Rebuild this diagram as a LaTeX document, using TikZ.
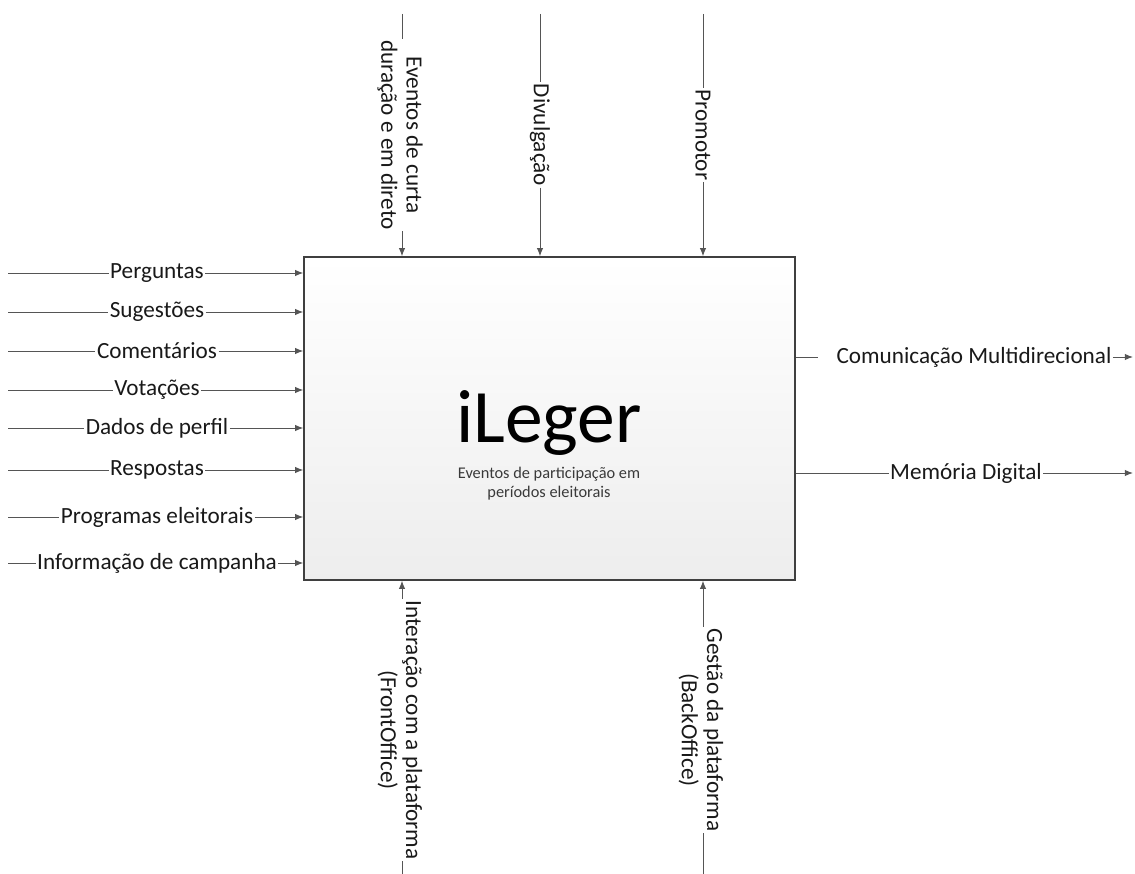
\documentclass[tikz,border=0pt]{standalone}
\usepackage{fontspec}
\setmainfont{Carlito}
\usetikzlibrary{arrows.meta}

\definecolor{lineGray}{HTML}{555555}
\definecolor{boxEdge}{HTML}{3F3F3F}
\definecolor{subGray}{HTML}{3A3A3A}

\begin{document}
\begin{tikzpicture}[
    x=0.02cm, y=-0.02cm,
    >={Latex[length=4.6pt,width=3.6pt]},
    line width=0.55pt,
    lbl/.style={font=\fontsize{13.2}{14.4}\selectfont, inner sep=0.6pt, text=black!90},
    vlbl/.style={lbl, rotate=-90, align=center},
    flow/.style={draw=lineGray}
]

\useasboundingbox (0,0) rectangle (1135,874);

% Main activity box
\node[draw=boxEdge, line width=0.85pt, top color=white, bottom color=black!7,
      minimum width=9.82cm, minimum height=6.46cm, inner sep=0] (box) at (549.5,418.5) {};
\node[font=\fontsize{43}{50}\selectfont, anchor=base, inner sep=0] (title) at (549,442) {iLeger};
\node[font=\fontsize{9.3}{10.8}\selectfont, text=subGray, align=center, inner sep=0] (sub)
      at (549,484) {Eventos de participação em\\períodos eleitorais};

% Inputs (left)
\coordinate (pergS) at (8,273);
\coordinate (sugS) at (8,312);
\coordinate (comS) at (8,351);
\coordinate (votS) at (8,390);
\coordinate (perfS) at (8,428);
\coordinate (respS) at (8,470);
\coordinate (progS) at (8,517);
\coordinate (infoS) at (8,563);

\node[lbl] (perg) at (157,273) {Perguntas};
\node[lbl] (sug) at (157,312) {Sugestões};
\node[lbl] (com) at (157,351) {Comentários};
\node[lbl] (vot) at (157,390) {Votações};
\node[lbl] (perf) at (157,428) {Dados de perfil};
\node[lbl] (resp) at (157,470) {Respostas};
\node[lbl] (prog) at (157,517) {Programas eleitorais};
\node[lbl] (info) at (157,563) {Informação de campanha};

\draw[flow] (pergS) -- (perg);
\draw[flow,->] (perg) -- (box.west |- perg);
\draw[flow] (sugS) -- (sug);
\draw[flow,->] (sug) -- (box.west |- sug);
\draw[flow] (comS) -- (com);
\draw[flow,->] (com) -- (box.west |- com);
\draw[flow] (votS) -- (vot);
\draw[flow,->] (vot) -- (box.west |- vot);
\draw[flow] (perfS) -- (perf);
\draw[flow,->] (perf) -- (box.west |- perf);
\draw[flow] (respS) -- (resp);
\draw[flow,->] (resp) -- (box.west |- resp);
\draw[flow] (progS) -- (prog);
\draw[flow,->] (prog) -- (box.west |- prog);
\draw[flow] (infoS) -- (info);
\draw[flow,->] (info) -- (box.west |- info);

% Controls (top)
\coordinate (evS) at (402,14);
\coordinate (divS) at (540,14);
\coordinate (promS) at (703,14);

\node[vlbl] (ev) at (400,135) {Eventos de curta\\duração e em direto};
\node[vlbl] (div) at (540,135) {Divulgação};
\node[vlbl] (prom) at (703,135) {Promotor};

\draw[flow] (evS) -- (evS |- ev.west);
\draw[flow,->] (evS |- ev.east) -- (evS |- box.north);
\draw[flow] (divS) -- (div);
\draw[flow,->] (div) -- (div |- box.north);
\draw[flow] (promS) -- (prom);
\draw[flow,->] (prom) -- (prom |- box.north);

% Mechanisms (bottom)
\coordinate (frontS) at (402,874);
\coordinate (backS) at (703,874);

\node[vlbl] (front) at (400,730) {Interação com a plataforma\\(FrontOffice)};
\node[vlbl] (back) at (701,730) {Gestão da plataforma\\(BackOffice)};

\draw[flow] (frontS) -- (frontS |- front.east);
\draw[flow,->] (frontS |- front.west) -- (frontS |- box.south);
\draw[flow] (backS) -- (backS |- back.east);
\draw[flow,->] (backS |- back.west) -- (backS |- box.south);

% Outputs (right)
\coordinate (commE) at (1133,357);
\coordinate (memE) at (1133,473);

\node[lbl] (comm) at (965.5,357) {\hspace*{0.34cm}Comunicação Multidirecional};
\node[lbl] (mem) at (966,473) {Memória Digital};

\draw[flow] (box.east |- comm) -- (comm);
\draw[flow,->] (comm) -- (commE);
\draw[flow] (box.east |- mem) -- (mem);
\draw[flow,->] (mem) -- (memE);

\end{tikzpicture}
\end{document}
